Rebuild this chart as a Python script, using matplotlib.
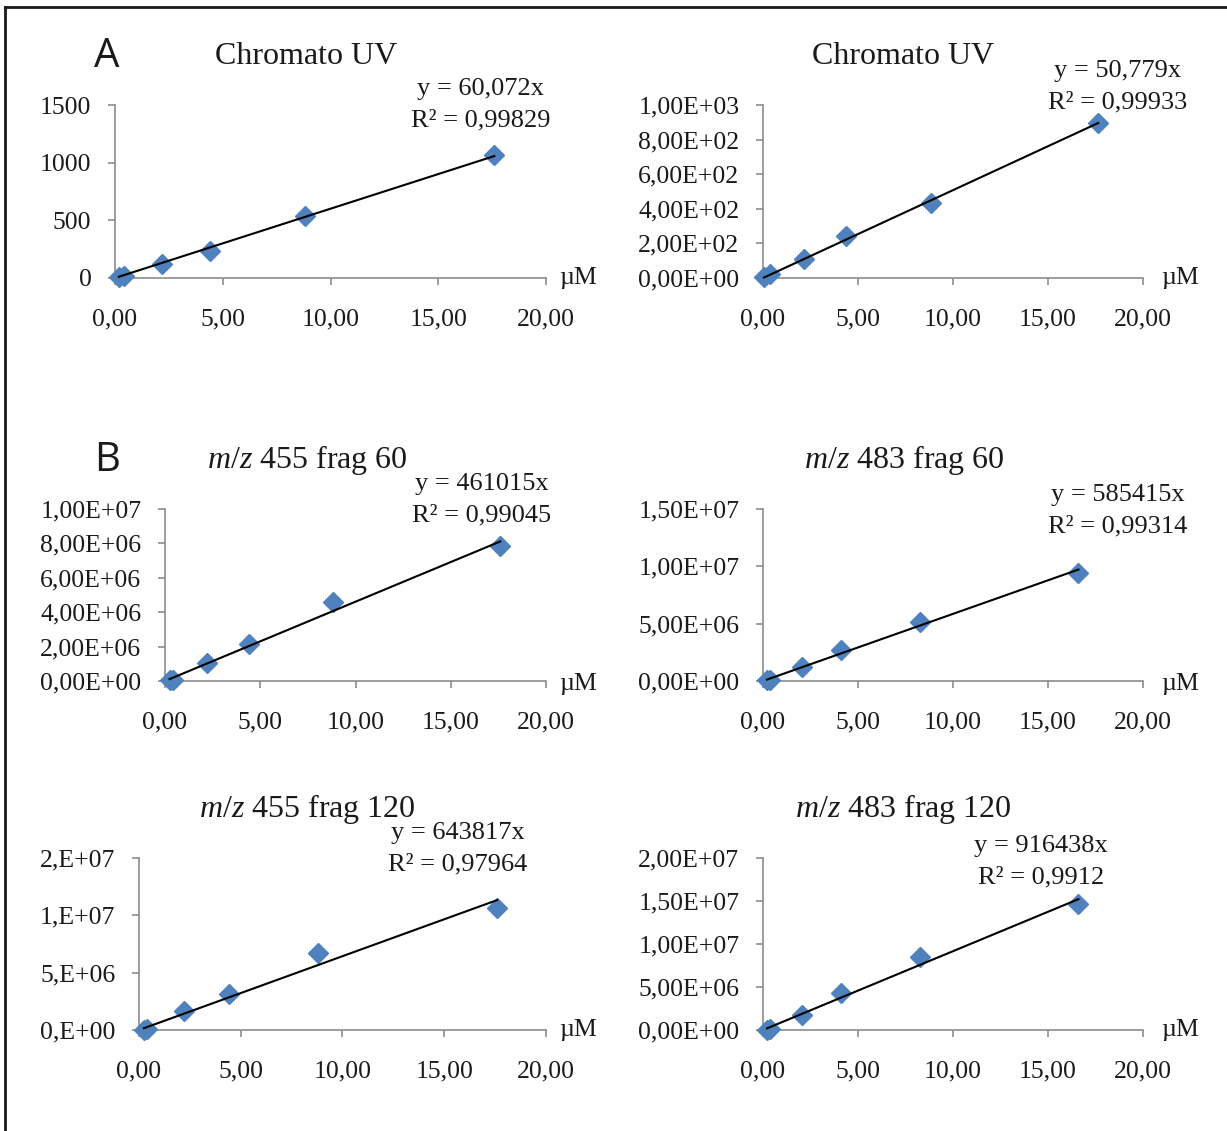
import matplotlib
matplotlib.use("Agg")
import matplotlib.pyplot as plt
from matplotlib.lines import Line2D

plt.rcParams['font.family'] = ['Liberation Serif', 'DejaVu Serif']
plt.rcParams['mathtext.fontset'] = 'custom'
plt.rcParams['mathtext.rm'] = 'Liberation Serif'
plt.rcParams['mathtext.it'] = 'Liberation Serif:italic'

W, H = 1227, 1131

# data (concentration in uM, signal)
titles = ['Chromato UV', 'Chromato UV',
          r'$\mathit{m/z}$ 455 frag 60', r'$\mathit{m/z}$ 483 frag 60',
          r'$\mathit{m/z}$ 455 frag 120', r'$\mathit{m/z}$ 483 frag 120']

conc_uv1 = [0.18, 0.40, 2.2, 4.4, 8.8, 17.6]
conc_uv2 = [0.05, 0.36, 2.15, 4.37, 8.82, 17.64]
conc_455 = [0.24, 0.41, 2.2, 4.4, 8.8, 17.6]
conc_483 = [0.21, 0.36, 2.07, 4.11, 8.27, 16.6]

sig_uv1 = [8, 20, 119, 233, 538, 1064]
sig_uv2 = [3, 25, 112, 244, 436, 897]
sig_455_60 = [0.03e6, 0.06e6, 1.03e6, 2.14e6, 4.58e6, 7.84e6]
sig_483_60 = [0.05e6, 0.12e6, 1.19e6, 2.73e6, 5.17e6, 9.39e6]
sig_455_120 = [0.02e6, 0.07e6, 1.63e6, 3.14e6, 6.72e6, 1.064e7]
sig_483_120 = [0.05e6, 0.15e6, 1.78e6, 4.30e6, 8.49e6, 1.465e7]

slopes = [60.072, 50.779, 461015, 585415, 643817, 916438]
eq_labels = ['y = 60,072x', 'y = 50,779x', 'y = 461015x',
             'y = 585415x', 'y = 643817x', 'y = 916438x']
r2_labels = ['R² = 0,99829', 'R² = 0,99933', 'R² = 0,99045',
             'R² = 0,99314', 'R² = 0,97964', 'R² = 0,9912']

x_ticks = [0, 5, 10, 15, 20]
x_ticklabels = ['0,00', '5,00', '10,00', '15,00', '20,00']

y_ticks = [
    [0, 500, 1000, 1500],
    [0, 200, 400, 600, 800, 1000],
    [0, 2e6, 4e6, 6e6, 8e6, 1e7],
    [0, 5e6, 1e7, 1.5e7],
    [0, 5e6, 1e7, 1.5e7],
    [0, 5e6, 1e7, 1.5e7, 2e7],
]
y_ticklabels = [
    ['0', '500', '1000', '1500'],
    ['0,00E+00', '2,00E+02', '4,00E+02', '6,00E+02', '8,00E+02', '1,00E+03'],
    ['0,00E+00', '2,00E+06', '4,00E+06', '6,00E+06', '8,00E+06', '1,00E+07'],
    ['0,00E+00', '5,00E+06', '1,00E+07', '1,50E+07'],
    ['0,E+00', '5,E+06', '1,E+07', '2,E+07'],
    ['0,00E+00', '5,00E+06', '1,00E+07', '1,50E+07', '2,00E+07'],
]

concs = [conc_uv1, conc_uv2, conc_455, conc_483, conc_455, conc_483]
sigs = [sig_uv1, sig_uv2, sig_455_60, sig_483_60, sig_455_120, sig_483_120]

# layout in pixels: axes left, right, y of zero, y of top tick
boxes = [(115, 546, 278, 105), (763, 1143, 278, 105),
         (165, 546, 681, 509), (763, 1143, 681, 509),
         (139, 546, 1030, 858), (763, 1143, 1030, 858)]
title_pos = [(306, 56), (903, 56), (307, 460), (904, 460), (307, 809), (903, 809)]
eq_pos = [(481, 89), (1118, 71), (482, 484), (1118, 495), (458, 833), (1041, 846)]
um_pos = [(578, 278), (1180, 278), (578, 684), (1180, 684), (578, 1030), (1180, 1030)]

fig = plt.figure(figsize=(W / 100, H / 100), dpi=100)

def fx(px):
    return px / W

def fy(py):
    return 1 - py / H

axis_grey = '#8c8c8c'

for i in range(6):
    left, right, y0, ytop = boxes[i]
    ax = fig.add_axes([fx(left), fy(y0), (right - left) / W, (y0 - ytop) / H])
    ax.set_xlim(0, 20)
    ax.set_ylim(0, y_ticks[i][-1])
    ax.patch.set_alpha(0)
    for s in ['top', 'right']:
        ax.spines[s].set_visible(False)
    for s in ['left', 'bottom']:
        ax.spines[s].set_color(axis_grey)
        ax.spines[s].set_linewidth(1.2)
    ax.set_xticks(x_ticks)
    ax.set_xticklabels(x_ticklabels)
    ax.set_yticks(y_ticks[i])
    ax.set_yticklabels(y_ticklabels[i])
    ax.tick_params(axis='both', colors=axis_grey, labelcolor='#1a1a1a',
                   labelsize=18.5, length=5, width=1.2)
    ax.tick_params(axis='x', pad=17)
    ax.tick_params(axis='y', pad=12)

    xs = concs[i]
    ax.plot(xs, sigs[i], linestyle='none', marker='D', markersize=10.5,
            color='#4f81bd', clip_on=False, zorder=3)
    x_fit = [min(xs), max(xs)]
    ax.plot(x_fit, [slopes[i] * v for v in x_fit], color='black', lw=1.5,
            clip_on=False, zorder=4)

    tx, ty = title_pos[i]
    fig.text(fx(tx), fy(ty), titles[i], fontsize=23, ha='center', va='center',
             color='#1a1a1a')
    ex, ey = eq_pos[i]
    fig.text(fx(ex), fy(ey), eq_labels[i], fontsize=19, ha='center', va='center',
             color='#1a1a1a')
    fig.text(fx(ex), fy(ey + 31), r2_labels[i], fontsize=19, ha='center',
             va='center', color='#1a1a1a')
    ux, uy = um_pos[i]
    fig.text(fx(ux), fy(uy), 'µM', fontsize=18.5, ha='center', va='center',
             color='#1a1a1a')

fig.text(fx(107), fy(57), 'A', fontsize=29, family='Open Sans', ha='center',
         va='center', color='#1a1a1a')
fig.text(fx(107), fy(461), 'B', fontsize=29, family='Open Sans', ha='center',
         va='center', color='#1a1a1a')

# frame lines at left and top
fig.add_artist(Line2D([fx(5), fx(5)], [fy(7), 0], color='#1a1a1a', lw=2))
fig.add_artist(Line2D([fx(5), 1], [fy(7), fy(7)], color='#1a1a1a', lw=2))

fig.savefig('out.png', dpi=100)
